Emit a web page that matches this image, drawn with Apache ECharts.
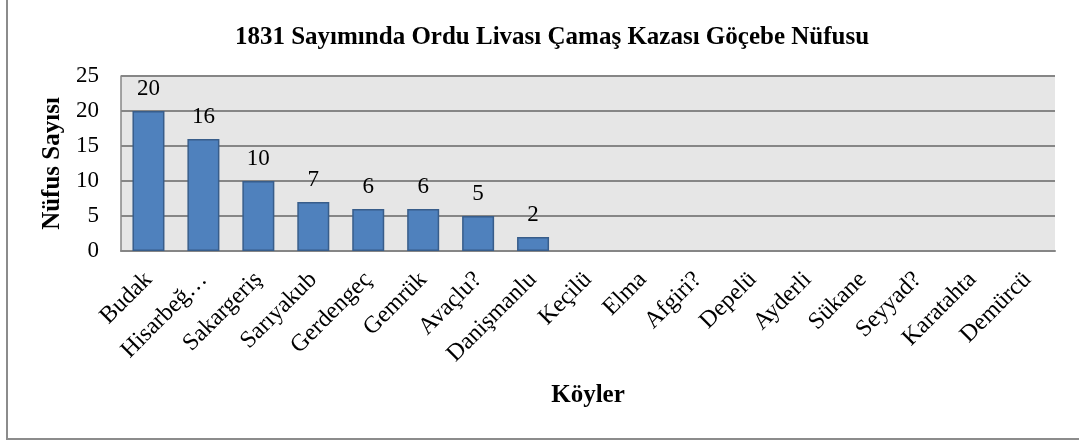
<!DOCTYPE html>
<html>
<head>
<meta charset="utf-8">
<script src="https://cdn.jsdelivr.net/npm/echarts@6/dist/echarts.min.js"></script>
<style>
  html, body { margin: 0; padding: 0; background: #fff; }
  #frame {
    position: absolute; left: 6px; top: 0; width: 1073px; height: 438px;
    border-left: 2px solid #8c8c8c; border-bottom: 2px solid #8c8c8c;
  }
  #chart { position: absolute; left: 0; top: 0; width: 1079px; height: 442px; }
</style>
</head>
<body>
<div id="frame"></div>
<div id="chart"></div>
<script>
// köy adları ve nüfus değerleri
const villages = ['Budak', 'Hisarbeğ…', 'Sakargeriş', 'Sarıyakub', 'Gerdengeç', 'Gemrük', 'Avaçlu?',
  'Danişmanlu', 'Keçilü', 'Elma', 'Afgiri?', 'Depelü', 'Ayderli', 'Sükane', 'Seyyad?', 'Karatahta', 'Demürcü'];
const population = [20, 16, 10, 7, 6, 6, 5, 2, 0, 0, 0, 0, 0, 0, 0, 0, 0];
const yTicks = [0, 5, 10, 15, 20, 25];

const serif = '"Liberation Serif", "DejaVu Serif", serif';
const chart = echarts.init(document.getElementById('chart'));

const option = {
  backgroundColor: 'transparent',
  animation: false,
  title: {
    text: '1831 Sayımında Ordu Livası Çamaş Kazası Göçebe Nüfusu',
    left: 547,
    textAlign: 'center',
    top: 20,
    textStyle: { fontFamily: serif, fontSize: 25, fontWeight: 'bold', color: '#000' }
  },
  grid: { left: 121, right: 24, top: 76, bottom: 191, show: true, backgroundColor: '#e6e6e6', borderWidth: 0 },
  xAxis: {
    type: 'category',
    data: villages,
    name: 'Köyler',
    nameLocation: 'middle',
    nameGap: 132,
    nameTextStyle: { fontFamily: serif, fontSize: 25, fontWeight: 'bold', color: '#000' },
    axisLine: { lineStyle: { color: '#868686', width: 2 } },
    axisTick: { length: 6, lineStyle: { color: '#868686', width: 1.5 } },
    axisLabel: { rotate: 45, interval: 0, fontFamily: serif, fontSize: 24, color: '#000', margin: 25 }
  },
  yAxis: {
    type: 'value',
    min: 0,
    max: 25,
    interval: 5,
    name: 'Nüfus Sayısı',
    nameLocation: 'middle',
    nameGap: 56,
    nameTextStyle: { fontFamily: serif, fontSize: 25, fontWeight: 'bold', color: '#000' },
    axisLine: { show: true, lineStyle: { color: '#868686', width: 1.5 } },
    axisTick: { show: false },
    axisLabel: {
      fontFamily: serif, fontSize: 23, color: '#000', margin: 22,
      formatter: v => yTicks.includes(v) ? String(v) : ''
    },
    splitLine: { lineStyle: { color: '#868686', width: 2 } }
  },
  series: [{
    type: 'bar',
    data: population.map(v => ({ value: v, itemStyle: v ? {} : { borderWidth: 0 } })),
    barWidth: 32,
    itemStyle: { color: '#4f81bd', borderColor: '#385d8a', borderWidth: 1.5 },
    label: {
      show: true,
      position: 'top',
      distance: 11,
      fontFamily: serif,
      fontSize: 23,
      color: '#000',
      formatter: p => p.value > 0 ? String(p.value) : ''
    }
  }]
};

chart.setOption(option);
</script>
</body>
</html>
